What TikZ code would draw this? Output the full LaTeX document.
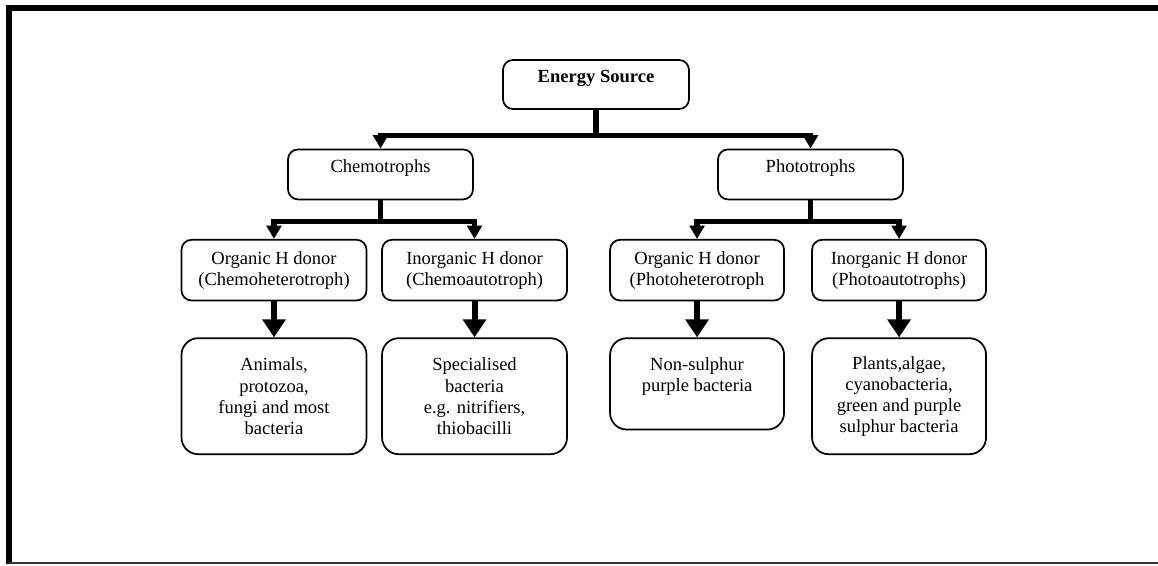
\documentclass[tikz,border=0pt]{standalone}
\usepackage{fontspec}
\setmainfont{Liberation Serif}
\usetikzlibrary{arrows.meta, positioning}
\newcommand{\treefont}{\fontsize{13.9}{15.8}\selectfont}

\begin{document}
\begin{tikzpicture}[
		x=0.75pt, y=-0.75pt,
		node distance=29pt,
		box/.style={draw, line width=1.3pt, rounded corners=7.5pt, align=center, font=\treefont},
		head/.style={box, minimum height=37.5pt, text depth=12pt},
		donor/.style={box, minimum height=45.5pt},
		group/.style={box, rounded corners=12.5pt, minimum height=87pt},
		branch/.style={-{Triangle[length=10pt, width=11pt]}, line width=4pt},
		drop/.style={-{Triangle[length=13.5pt, width=17pt]}, line width=4.5pt}]
	\useasboundingbox (0,0) rectangle (1158,565);
	\draw[line width=4.5pt] (1158,8) -- (9,8) -- (9,564);
	\draw[line width=1.5pt, black!80] (9,563) -- (1158,563);

	\node[box, minimum width=139.5pt, minimum height=36.75pt, text depth=12pt, font=\treefont\bfseries] (src) at (596,84.5) {Energy Source};
	\node[head, minimum width=138.75pt, below=of src, xshift=-161.6pt] (chemo) {Chemotrophs};
	\node[head, minimum width=138.75pt, below=of src, xshift=160.9pt] (photo) {Phototrophs};

	\node[donor, minimum width=138.75pt, below=of chemo, xshift=-79.9pt] (chorg) {Organic H donor\\(Chemoheterotroph)};
	\node[donor, minimum width=138.75pt, below=of chemo, xshift=70.5pt] (chinorg) {Inorganic H donor\\(Chemoautotroph)};
	\node[donor, minimum width=130.5pt, below=of photo, xshift=-85.1pt] (phorg) {Organic H donor\\(Photoheterotroph};
	\node[donor, minimum width=130.5pt, below=of photo, xshift=66.4pt] (phinorg) {Inorganic H donor\\(Photoautotrophs)};

	\node[group, minimum width=138.75pt, below=27pt of chorg] (animals) {Animals,\\protozoa,\\fungi and most\\bacteria};
	\node[group, minimum width=138.75pt, below=27pt of chinorg] (special) {Specialised\\bacteria\\e.g. nitrifiers,\\thiobacilli};
	\node[group, minimum width=130.5pt, minimum height=68.5pt, text depth=14pt, below=27pt of phorg] (nonsul) {Non-sulphur\\purple bacteria};
	\node[group, minimum width=130.5pt, below=27pt of phinorg] (plants) {Plants,algae,\\cyanobacteria,\\green and purple\\sulphur bacteria};

	\coordinate[below=19pt of src] (srcfork);
	\coordinate[below=16pt of chemo] (chemofork);
	\coordinate[below=16pt of photo] (photofork);
	\foreach \k in {chemo, photo}
		\draw[branch] (src.south) -- (srcfork) -| (\k.north);
	\foreach \k in {chorg, chinorg}
		\draw[branch] (chemo.south) -- (chemofork) -| (\k.north);
	\foreach \k in {phorg, phinorg}
		\draw[branch] (photo.south) -- (photofork) -| (\k.north);
	\foreach \a/\b in {chorg/animals, chinorg/special, phorg/nonsul, phinorg/plants}
		\draw[drop] (\a) -- (\b);
\end{tikzpicture}
\end{document}
